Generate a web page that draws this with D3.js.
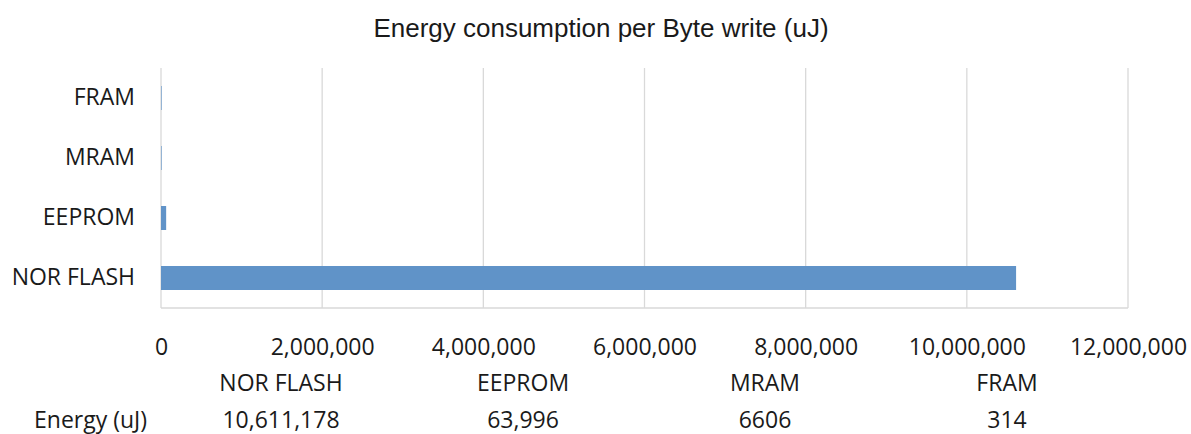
<!DOCTYPE html>
<html>
<head>
<meta charset="utf-8">
<script src="https://cdn.jsdelivr.net/npm/d3@7"></script>
<style>
  html, body { margin: 0; padding: 0; background: #fff; }
  svg { display: block; }
</style>
</head>
<body>
<svg id="chart" width="1191" height="434"></svg>
<script>
// Memory technologies and their energy per byte write (uJ)
const categories = ["NOR FLASH", "EEPROM", "MRAM", "FRAM"];
const energy = [10611178, 63996, 6606, 314];
const tableLabels = ["10,611,178", "63,996", "6606", "314"];
const xTicks = [0, 2000000, 4000000, 6000000, 8000000, 10000000, 12000000];
const title = "Energy consumption per Byte write (uJ)";
const rowHeader = "Energy (uJ)";

const svg = d3.select("#chart");
const margin = { left: 161, right: 63, top: 68, bottom: 126 };
const W = 1191, H = 434;
const plotW = W - margin.left - margin.right;
const plotH = H - margin.top - margin.bottom;

const font = "'Open Sans', 'DejaVu Sans', sans-serif";
const fontSize = 23;
const textColor = "#1a1a1a";

const x = d3.scaleLinear().domain([0, 12000000]).range([0, plotW]);
// FRAM on top, NOR FLASH at the bottom
const y = d3.scaleBand().domain(categories.slice().reverse()).range([0, plotH]).paddingInner(0.6).paddingOuter(0.3);

svg.append("text")
  .attr("x", 601).attr("y", 37)
  .attr("text-anchor", "middle")
  .attr("font-family", "'Liberation Sans', Arial, sans-serif")
  .attr("font-size", 26)
  .attr("fill", textColor)
  .text(title);

const g = svg.append("g").attr("transform", `translate(${margin.left},${margin.top})`);

// vertical gridlines
g.append("g").selectAll("line").data(xTicks).join("line")
  .attr("x1", d => x(d)).attr("x2", d => x(d))
  .attr("y1", 0).attr("y2", plotH)
  .attr("stroke", "#d9d9d9").attr("stroke-width", 1.3);

// bottom axis line
g.append("line")
  .attr("x1", 0).attr("x2", plotW).attr("y1", plotH).attr("y2", plotH)
  .attr("stroke", "#d9d9d9").attr("stroke-width", 1.3);

// bars
g.append("g").selectAll("rect").data(categories).join("rect")
  .attr("x", 0)
  .attr("y", d => y(d))
  .attr("height", y.bandwidth())
  .attr("width", (d, i) => Math.max(x(energy[i]), 0.6))
  .attr("fill", "#6093c8");

// x axis tick labels
const xAxis = d3.axisBottom(x).tickValues(xTicks).tickSize(0).tickPadding(0)
  .tickFormat(d3.format(","));
const xa = g.append("g").attr("transform", `translate(0,${plotH + 47})`).call(xAxis);
xa.select(".domain").remove();
xa.selectAll("text").attr("font-family", font).attr("font-size", fontSize).attr("fill", textColor).attr("dy", 0);

// y axis category labels
const yAxis = d3.axisLeft(y).tickSize(0).tickPadding(26);
const ya = g.append("g").call(yAxis);
ya.select(".domain").remove();
ya.selectAll("text").attr("font-family", font).attr("font-size", fontSize).attr("fill", textColor);

// data table under the axis
const col = d3.scaleBand().domain(categories).range([160, 1128]);
const table = svg.append("g").attr("font-family", font).attr("font-size", fontSize).attr("fill", textColor);
table.selectAll("text.head").data(categories).join("text")
  .attr("class", "head")
  .attr("x", d => col(d) + col.bandwidth() / 2)
  .attr("y", 391)
  .attr("text-anchor", "middle")
  .text(d => d);
table.selectAll("text.val").data(categories).join("text")
  .attr("class", "val")
  .attr("x", d => col(d) + col.bandwidth() / 2)
  .attr("y", 428)
  .attr("text-anchor", "middle")
  .text((d, i) => tableLabels[i]);
table.append("text")
  .attr("x", 34).attr("y", 428)
  .text(rowHeader);
</script>
</body>
</html>
